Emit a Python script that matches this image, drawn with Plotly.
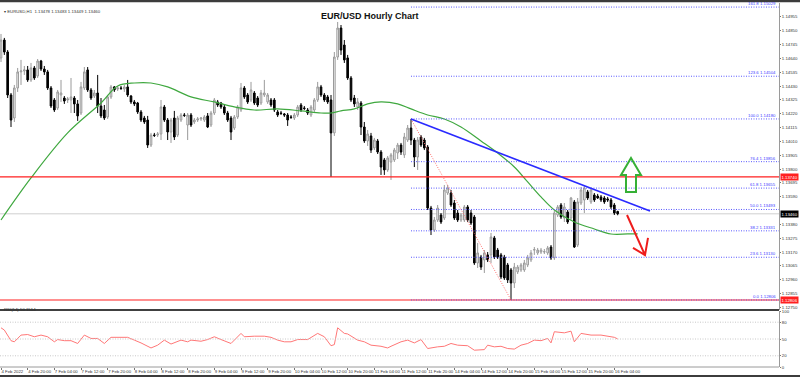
import plotly.graph_objects as go

# ---------------- data (EUR/USD H1) ----------------
open_ = [1.14643, 1.14779, 1.14688, 1.14362, 1.14187, 1.14415, 1.14537, 1.14544, 1.14552, 1.14476,
         1.14567, 1.14506, 1.14620, 1.14559, 1.14537, 1.14415, 1.14324, 1.14263, 1.14362, 1.14339,
         1.14324, 1.14324, 1.14339, 1.14294, 1.14225, 1.14415, 1.14552, 1.14400, 1.14354, 1.14377,
         1.14278, 1.14248, 1.14195, 1.14347, 1.14423, 1.14407, 1.14415, 1.14407, 1.14423, 1.14354,
         1.14309, 1.14301, 1.14233, 1.14187, 1.14172, 1.13982, 1.14058, 1.14058, 1.14066, 1.14271,
         1.14172, 1.14081, 1.14187, 1.14058, 1.14172, 1.14210, 1.14134, 1.14210, 1.14157, 1.14172,
         1.14180, 1.14172, 1.14203, 1.14134, 1.14225, 1.14309, 1.14301, 1.14271, 1.14225, 1.14187,
         1.14111, 1.14195, 1.14248, 1.14415, 1.14362, 1.14324, 1.14377, 1.14339, 1.14301, 1.14362,
         1.14309, 1.14324, 1.14324, 1.14233, 1.14225, 1.14218, 1.14210, 1.14195, 1.14187, 1.14210,
         1.14286, 1.14263, 1.14248, 1.14210, 1.14248, 1.14324, 1.14423, 1.14362, 1.14347, 1.14324,
         1.14074, 1.14650, 1.14870, 1.14741, 1.14643, 1.14491, 1.14339, 1.14271, 1.14301, 1.14119,
         1.14013, 1.14051, 1.13960, 1.14013, 1.13929, 1.13869, 1.13793, 1.13853, 1.13869, 1.13922,
         1.13982, 1.13907, 1.14020, 1.14111, 1.14020, 1.13891, 1.14043, 1.14020, 1.13967, 1.13504,
         1.13337, 1.13413, 1.13451, 1.13428, 1.13618, 1.13618, 1.13542, 1.13466, 1.13413, 1.13413,
         1.13512, 1.13466, 1.13436, 1.13087, 1.13132, 1.13110, 1.13148, 1.13148, 1.13277, 1.13185,
         1.13148, 1.13132, 1.13072, 1.13034, 1.12935, 1.13019, 1.13034, 1.13034, 1.13072, 1.13110,
         1.13185, 1.13163, 1.13170, 1.13170, 1.13163, 1.13208, 1.13125, 1.13451, 1.13527, 1.13428,
         1.13474, 1.13428, 1.13550, 1.13223, 1.13542, 1.13565, 1.13626, 1.13550, 1.13603, 1.13595,
         1.13588, 1.13580, 1.13573, 1.13565, 1.13527, 1.13478]
high = [1.14825, 1.14795, 1.14703, 1.14377, 1.14438, 1.14567, 1.14628, 1.14582, 1.14582, 1.14605,
        1.14582, 1.14635, 1.14628, 1.14582, 1.14552, 1.14430, 1.14339, 1.14400, 1.14476, 1.14354,
        1.14347, 1.14491, 1.14354, 1.14324, 1.14461, 1.14574, 1.14574, 1.14415, 1.14400, 1.14514,
        1.14339, 1.14286, 1.14362, 1.14438, 1.14430, 1.14430, 1.14430, 1.14438, 1.14476, 1.14362,
        1.14324, 1.14309, 1.14248, 1.14203, 1.14203, 1.14074, 1.14074, 1.14081, 1.14324, 1.14286,
        1.14187, 1.14187, 1.14241, 1.14203, 1.14225, 1.14225, 1.14225, 1.14225, 1.14187, 1.14195,
        1.14195, 1.14210, 1.14225, 1.14241, 1.14339, 1.14324, 1.14309, 1.14286, 1.14241, 1.14203,
        1.14210, 1.14286, 1.14453, 1.14430, 1.14377, 1.14461, 1.14392, 1.14354, 1.14400, 1.14476,
        1.14377, 1.14339, 1.14339, 1.14248, 1.14241, 1.14225, 1.14225, 1.14210, 1.14225, 1.14286,
        1.14301, 1.14278, 1.14263, 1.14286, 1.14339, 1.14461, 1.14438, 1.14377, 1.14362, 1.14362,
        1.14688, 1.14916, 1.14893, 1.14779, 1.14666, 1.14506, 1.14362, 1.14339, 1.14316, 1.14157,
        1.14096, 1.14074, 1.14036, 1.14028, 1.13944, 1.13884, 1.13899, 1.13922, 1.13960, 1.13998,
        1.13998, 1.14074, 1.14134, 1.14180, 1.14036, 1.14043, 1.14058, 1.14036, 1.13982, 1.13520,
        1.13436, 1.13527, 1.13466, 1.13679, 1.13679, 1.13641, 1.13565, 1.13489, 1.13466, 1.13527,
        1.13527, 1.13489, 1.13451, 1.13239, 1.13148, 1.13185, 1.13170, 1.13315, 1.13292, 1.13201,
        1.13163, 1.13148, 1.13087, 1.13049, 1.13087, 1.13072, 1.13087, 1.13110, 1.13148, 1.13185,
        1.13208, 1.13201, 1.13201, 1.13193, 1.13216, 1.13223, 1.13481, 1.13527, 1.13542, 1.13542,
        1.13489, 1.13588, 1.13565, 1.13580, 1.13664, 1.13671, 1.13641, 1.13656, 1.13618, 1.13611,
        1.13603, 1.13595, 1.13588, 1.13580, 1.13542, 1.13483]
low = [1.14612, 1.14666, 1.14339, 1.14119, 1.14157, 1.14385, 1.14438, 1.14514, 1.14461, 1.14461,
       1.14476, 1.14491, 1.14544, 1.14514, 1.14400, 1.14263, 1.14233, 1.14248, 1.14309, 1.14294,
       1.14301, 1.14225, 1.14225, 1.14165, 1.14210, 1.14400, 1.14385, 1.14324, 1.14339, 1.14225,
       1.14187, 1.14172, 1.14180, 1.14332, 1.14385, 1.14392, 1.14400, 1.14385, 1.14347, 1.14294,
       1.14278, 1.14218, 1.14157, 1.14142, 1.13960, 1.13967, 1.14043, 1.14043, 1.14020, 1.14157,
       1.14020, 1.13998, 1.14020, 1.14043, 1.14157, 1.14195, 1.14020, 1.14119, 1.14142, 1.14157,
       1.14165, 1.14157, 1.14111, 1.14119, 1.14210, 1.14271, 1.14256, 1.14210, 1.14157, 1.14020,
       1.14096, 1.14180, 1.14233, 1.14332, 1.14294, 1.14309, 1.14286, 1.14271, 1.14286, 1.14347,
       1.14294, 1.14271, 1.14233, 1.14195, 1.14210, 1.14195, 1.14127, 1.14180, 1.14172, 1.14195,
       1.14233, 1.14248, 1.14210, 1.14195, 1.14233, 1.14309, 1.14347, 1.14309, 1.14294, 1.13740,
       1.14051, 1.14628, 1.14666, 1.14605, 1.14476, 1.14309, 1.14271, 1.14248, 1.14058, 1.13998,
       1.13975, 1.13922, 1.13944, 1.13914, 1.13755, 1.13755, 1.13778, 1.13717, 1.13853, 1.13876,
       1.13907, 1.13884, 1.14005, 1.13982, 1.13815, 1.13793, 1.13967, 1.13944, 1.13489, 1.13299,
       1.13322, 1.13398, 1.13383, 1.13413, 1.13603, 1.13512, 1.13413, 1.13398, 1.13398, 1.13398,
       1.13398, 1.13375, 1.13072, 1.13049, 1.13034, 1.13011, 1.13094, 1.13087, 1.13117, 1.13117,
       1.12965, 1.12958, 1.12935, 1.12806, 1.12897, 1.13003, 1.13019, 1.13019, 1.13056, 1.13094,
       1.13148, 1.13148, 1.13155, 1.13155, 1.13148, 1.13110, 1.13110, 1.13436, 1.13421, 1.13398,
       1.13383, 1.13413, 1.13201, 1.13208, 1.13527, 1.13466, 1.13565, 1.13535, 1.13550, 1.13573,
       1.13550, 1.13535, 1.13550, 1.13496, 1.13451, 1.13449]
close = [1.14779, 1.14688, 1.14362, 1.14172, 1.14415, 1.14537, 1.14544, 1.14552, 1.14476, 1.14567,
         1.14491, 1.14620, 1.14559, 1.14537, 1.14415, 1.14278, 1.14248, 1.14385, 1.14377, 1.14316,
         1.14332, 1.14347, 1.14294, 1.14203, 1.14423, 1.14537, 1.14400, 1.14339, 1.14377, 1.14278,
         1.14203, 1.14187, 1.14347, 1.14423, 1.14400, 1.14415, 1.14412, 1.14423, 1.14362, 1.14309,
         1.14294, 1.14233, 1.14172, 1.14157, 1.13982, 1.14058, 1.14055, 1.14066, 1.14271, 1.14172,
         1.14081, 1.14172, 1.14043, 1.14187, 1.14210, 1.14207, 1.14210, 1.14134, 1.14172, 1.14180,
         1.14187, 1.14195, 1.14119, 1.14225, 1.14324, 1.14286, 1.14271, 1.14225, 1.14172, 1.14081,
         1.14195, 1.14271, 1.14415, 1.14347, 1.14309, 1.14400, 1.14301, 1.14286, 1.14377, 1.14377,
         1.14362, 1.14286, 1.14248, 1.14210, 1.14222, 1.14210, 1.14172, 1.14192, 1.14210, 1.14271,
         1.14248, 1.14260, 1.14225, 1.14271, 1.14324, 1.14423, 1.14362, 1.14324, 1.14309, 1.14074,
         1.14650, 1.14870, 1.14703, 1.14628, 1.14491, 1.14324, 1.14294, 1.14309, 1.14119, 1.14013,
         1.14066, 1.13944, 1.14020, 1.13929, 1.13815, 1.13793, 1.13884, 1.13907, 1.13944, 1.13982,
         1.13929, 1.14043, 1.14111, 1.14020, 1.13891, 1.14020, 1.13982, 1.13960, 1.13504, 1.13337,
         1.13413, 1.13504, 1.13398, 1.13641, 1.13656, 1.13527, 1.13428, 1.13413, 1.13451, 1.13512,
         1.13413, 1.13390, 1.13087, 1.13163, 1.13056, 1.13163, 1.13110, 1.13284, 1.13132, 1.13132,
         1.12981, 1.12973, 1.12958, 1.12935, 1.13056, 1.13056, 1.13072, 1.13087, 1.13125, 1.13163,
         1.13188, 1.13185, 1.13185, 1.13173, 1.13201, 1.13125, 1.13466, 1.13512, 1.13436, 1.13512,
         1.13398, 1.13580, 1.13208, 1.13550, 1.13641, 1.13656, 1.13580, 1.13641, 1.13565, 1.13580,
         1.13565, 1.13550, 1.13565, 1.13512, 1.13466, 1.13460]
bars = list(range(len(close)))

# moving average (as drawn, read at sample bars)
ma_bars = [0, 9, 20, 30, 35, 40, 45, 50, 57, 64, 70, 76, 83, 90, 96, 99, 102, 106, 110, 114,
           119, 123, 128, 133, 138, 144, 149, 154, 158, 162, 166, 172, 178, 183, 188, 191]
ma_vals = [1.13413, 1.13732, 1.14074, 1.14301, 1.14430, 1.14453, 1.14453, 1.14423, 1.14347, 1.14309,
           1.14271, 1.14248, 1.14256, 1.14241, 1.14225, 1.14225, 1.14241, 1.14256, 1.14294, 1.14309,
           1.14294, 1.14256, 1.14210, 1.14180, 1.14119, 1.14013, 1.13922, 1.13815, 1.13702, 1.13588,
           1.13489, 1.13398, 1.13345, 1.13307, 1.13307, 1.13307]

# RSI(14) read at sample bars
rsi_bars = [0, 1, 3, 4, 6, 8, 10, 12, 14, 16, 17, 19, 21, 23, 25, 27, 29, 31, 33, 38, 40, 42, 45, 47,
            49, 51, 54, 56, 57, 60, 62, 64, 66, 69, 72, 73, 76, 79, 81, 83, 85, 87, 89, 92, 95, 97,
            99, 100, 101, 103, 104, 107, 109, 111, 114, 116, 117, 120, 122, 124, 126, 128, 131, 133,
            135, 137, 140, 142, 145, 146, 148, 150, 152, 154, 156, 158, 160, 162, 164, 165, 166, 169,
            171, 172, 174, 177, 180, 182, 184, 185]
rsi_vals = [70, 66, 47, 45, 57, 58, 54, 57, 54, 45, 49, 47, 47, 42, 57, 51, 51, 42, 53, 53, 48, 43, 34, 39,
            48, 41, 48, 45, 48, 46, 49, 54, 49, 42, 60, 54, 55, 55, 53, 48, 45, 45, 49, 49, 60, 54,
            38, 40, 70, 60, 59, 48, 45, 39, 37, 34, 37, 45, 48, 43, 49, 33, 36, 37,
            42, 39, 38, 30, 31, 39, 36, 37, 33, 32, 39, 42, 48, 47, 51, 43, 63, 61,
            64, 45, 60, 57, 57, 55, 53, 50.15]

time_tick_bars = list(range(0, 185, 8))
time_tick_labels = ["4 Feb 2022", "4 Feb 20:00", "7 Feb 04:00", "7 Feb 12:00", "7 Feb 20:00",
                    "8 Feb 04:00", "8 Feb 12:00", "8 Feb 20:00", "9 Feb 04:00", "9 Feb 12:00",
                    "9 Feb 20:00", "10 Feb 04:00", "10 Feb 12:00", "10 Feb 20:00", "11 Feb 04:00",
                    "11 Feb 12:00", "11 Feb 20:00", "14 Feb 04:00", "14 Feb 12:00", "14 Feb 20:00",
                    "15 Feb 04:00", "15 Feb 12:00", "15 Feb 20:00", "16 Feb 04:00"]
price_ticks = [1.12750, 1.12855, 1.12960, 1.13065, 1.13170, 1.13275, 1.13380, 1.13590,
               1.13695, 1.13800, 1.13905, 1.14010, 1.14115, 1.14220, 1.14325, 1.14430, 1.14535,
               1.14640, 1.14745, 1.14850, 1.14955]
rsi_ticks = [0, 20, 50, 80, 100]
rsi_levels = [20, 50, 80]

fib_ratios = [0.0, 23.6, 38.2, 50.0, 61.8, 76.4, 100.0, 123.6, 161.8]
fib_start_bar = 123            # swing high bar
fib_end_bar = 153              # swing low bar
fib_high = high[fib_start_bar]
fib_low = low[fib_end_bar]
support_level = 1.13740
current_price = close[-1]

# analyst drawings (bar index, price)
trend_bars = [123, 194.7]
trend_prices = [1.14180, 1.13481]
red_arrow_tail = (187.8, 1.13451)
red_arrow_tip = (193.2, 1.13147)
red_arrow_arms = [(189.6, 1.13201), (194.1, 1.13277)]
green_arrow = [(189.0, 1.13884), (192.0, 1.13755), (190.5, 1.13755), (190.5, 1.13626),
               (187.5, 1.13626), (187.5, 1.13755), (186.0, 1.13755)]

# ---------------- figure ----------------
W, H = 800, 377
R = 21                      # right margin holding the price scale
PW = W - R
def py(px):
    return 1 - px / H

X_RANGE = [-0.3, 233.4]
Y_RANGE = [1.12730, 1.15060]
FONT = "Liberation Sans"
SMALL = 4.3

fig = go.Figure()
fig.add_trace(go.Candlestick(
    x=bars, open=open_, high=high, low=low, close=close,
    increasing=dict(line=dict(color="#9a9a9a", width=1), fillcolor="#f4f4f4"),
    decreasing=dict(line=dict(color="#000000", width=1), fillcolor="#000000"),
    whiskerwidth=0, hoverinfo="skip", xaxis="x", yaxis="y"))
fig.add_trace(go.Scatter(x=ma_bars, y=ma_vals, mode="lines", line=dict(color="#3fa83f", width=1.2, shape="spline"),
                         hoverinfo="skip", xaxis="x", yaxis="y"))
fig.add_trace(go.Scatter(x=rsi_bars, y=rsi_vals, mode="lines", line=dict(color="#ff7777", width=1),
                         hoverinfo="skip", xaxis="x", yaxis="y2"))

DOT = "1px,1.5px"
shapes = []
# current price line
shapes.append(dict(type="line", xref="paper", x0=0, x1=1, yref="y", y0=current_price, y1=current_price,
                   line=dict(color="#cfcfcf", width=1), layer="below"))
# red horizontal lines
for lv in [support_level, fib_low]:
    shapes.append(dict(type="line", xref="paper", x0=0, x1=1, yref="y", y0=lv, y1=lv,
                       line=dict(color="#ff2020", width=1.2)))
# fibonacci levels
annotations = []
for r in fib_ratios:
    p = fib_low + r / 100.0 * (fib_high - fib_low)
    shapes.append(dict(type="line", xref="x", x0=fib_start_bar, x1=X_RANGE[1], yref="y", y0=p, y1=p,
                       line=dict(color="#5a5aff", width=1, dash=DOT)))
    annotations.append(dict(x=X_RANGE[1] - 0.3, y=p, xref="x", yref="y", xanchor="right", yanchor="bottom",
                            text=f"{r:.1f} {p:.5f}", showarrow=False,
                            font=dict(family=FONT, size=SMALL, color="#4040ff"), yshift=-1))
# fib diagonal
shapes.append(dict(type="line", xref="x", yref="y", x0=fib_start_bar, y0=fib_high, x1=fib_end_bar, y1=fib_low,
                   line=dict(color="#ff7070", width=1, dash=DOT)))
# trend line
shapes.append(dict(type="line", xref="x", yref="y", x0=trend_bars[0], y0=trend_prices[0],
                   x1=trend_bars[1], y1=trend_prices[1], line=dict(color="#2a2aff", width=1.6)))
# red arrow
tx, ty = red_arrow_tail
hx, hy = red_arrow_tip
(a1x, a1y), (a2x, a2y) = red_arrow_arms
shapes.append(dict(type="path", xref="x", yref="y",
                   path=f"M {tx},{ty} L {hx},{hy} M {a1x},{a1y} L {hx},{hy} L {a2x},{a2y}",
                   line=dict(color="#ee1c1c", width=2)))
# green hollow arrow
gp = "M " + " L ".join(f"{x},{y}" for x, y in green_arrow) + " Z"
shapes.append(dict(type="path", xref="x", yref="y", path=gp, line=dict(color="#36b036", width=2)))
# rsi levels
for lv in rsi_levels:
    shapes.append(dict(type="line", xref="paper", x0=0, x1=1, yref="y2", y0=lv, y1=lv,
                       line=dict(color="#c8c8c8", width=1, dash=DOT)))
# frame
shapes.append(dict(type="line", xref="paper", yref="paper", x0=0, x1=1, y0=py(310), y1=py(310),
                   line=dict(color="#000000", width=1.5)))
shapes.append(dict(type="line", xref="paper", yref="paper", x0=0, x1=1, y0=py(367), y1=py(367),
                   line=dict(color="#9a9a9a", width=1)))
shapes.append(dict(type="rect", xref="paper", yref="paper", x0=0, x1=W / PW, y0=py(2.2), y1=1,
                   fillcolor="#3c3c3c", line=dict(width=0)))
shapes.append(dict(type="rect", xref="paper", yref="paper", x0=0, x1=W / PW, y0=0, y1=py(375),
                   fillcolor="#3c3c3c", line=dict(width=0)))

# texts
annotations.append(dict(x=370 / PW, y=py(9.5), xref="paper", yref="paper", text="<b>EUR/USD Hourly Chart</b>",
                        showarrow=False, font=dict(family=FONT, size=9, color="#111111")))
annotations.append(dict(x=2 / PW, y=py(6.5), xref="paper", yref="paper", xanchor="left",
                        text="▾ EURUSD,H1  1.13478 1.13483 1.13449 1.13460",
                        showarrow=False, font=dict(family=FONT, size=SMALL, color="#333333")))
annotations.append(dict(x=2 / PW, y=py(314), xref="paper", yref="paper", xanchor="left",
                        text="RSI(14) 50.1514", showarrow=False,
                        font=dict(family=FONT, size=SMALL, color="#333333")))
# price boxes on the scale
for lv, bg in [(support_level, "#ff2020"), (fib_low, "#ff2020"), (current_price, "#000000")]:
    annotations.append(dict(x=1.0, y=lv, xref="paper", yref="y", xanchor="left", yanchor="middle",
                            text=f"{lv:.5f}", showarrow=False, bgcolor=bg, borderpad=0.5, xshift=1,
                            font=dict(family=FONT, size=SMALL, color="#ffffff")))

fig.update_layout(
    width=W, height=H, margin=dict(l=0, r=R, t=0, b=0),
    paper_bgcolor="white", plot_bgcolor="white", showlegend=False,
    shapes=shapes, annotations=annotations,
    xaxis=dict(domain=[0, 1], range=X_RANGE, anchor="y2", tickvals=time_tick_bars, ticktext=time_tick_labels,
               ticklabelposition="outside right", ticks="outside", ticklen=2, tickcolor="#777",
               tickangle=0, automargin=False,
               tickfont=dict(family=FONT, size=SMALL, color="#333"), showgrid=False, zeroline=False,
               showline=False, rangeslider=dict(visible=False), fixedrange=True),
    yaxis=dict(domain=[py(310), py(3)], range=Y_RANGE, side="right", anchor="x",
               tickvals=price_ticks, ticktext=[f"{v:.5f}" for v in price_ticks],
               ticks="outside", ticklen=1, tickcolor="#777", showgrid=False, zeroline=False,
               showline=True, linecolor="#9a9a9a", linewidth=1, automargin=False,
               tickfont=dict(family=FONT, size=SMALL, color="#333")),
    yaxis2=dict(domain=[py(367), py(311)], range=[0, 100], side="right", anchor="x",
                tickvals=rsi_ticks, ticktext=[str(v) for v in rsi_ticks],
                ticks="outside", ticklen=1, tickcolor="#777", showgrid=False, zeroline=False,
                showline=True, linecolor="#9a9a9a", linewidth=1, automargin=False,
                tickfont=dict(family=FONT, size=SMALL, color="#333")),
)

fig.write_html("out.html", config={"displayModeBar": False, "staticPlot": True},
               post_script="document.body.style.margin='0px';document.body.style.overflow='hidden';")
